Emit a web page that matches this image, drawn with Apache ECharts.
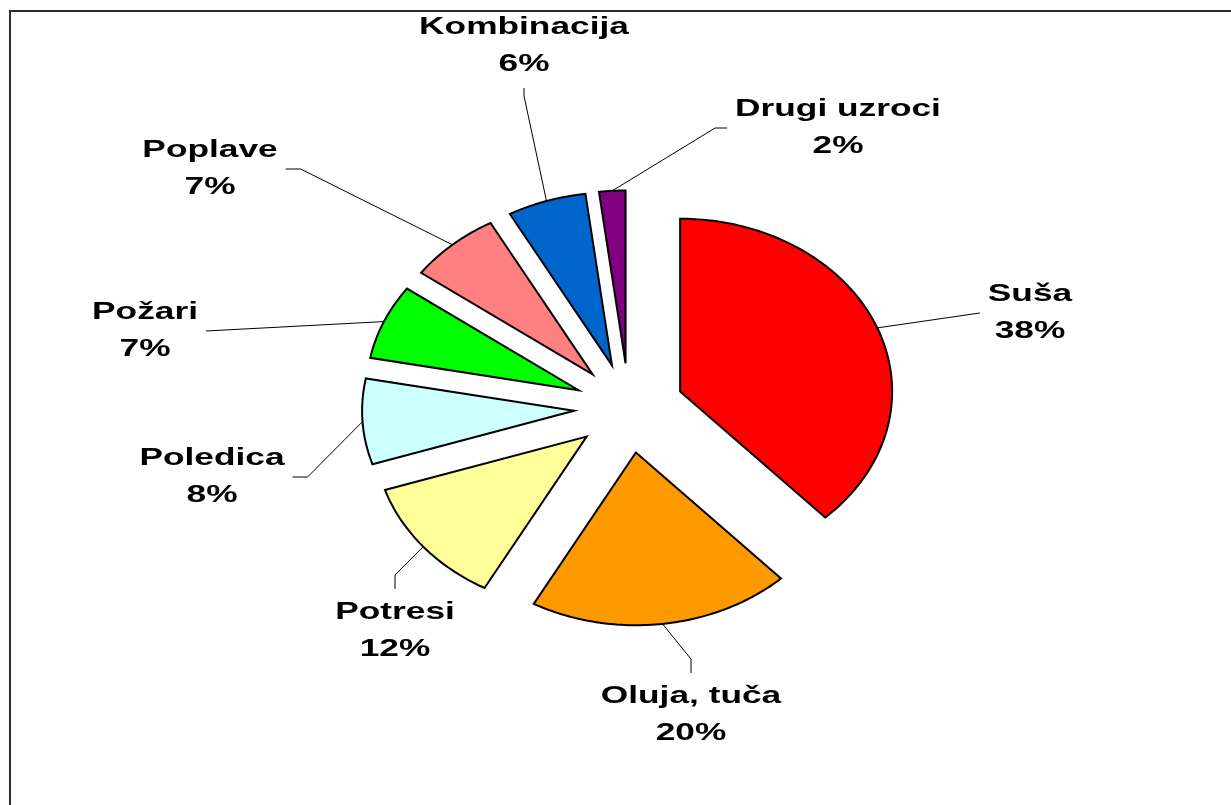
<!DOCTYPE html>
<html>
<head>
<meta charset="utf-8">
<script src="https://cdn.jsdelivr.net/npm/echarts@6/dist/echarts.min.js"></script>
<style>
  html, body { margin: 0; padding: 0; background: #ffffff; }
  #chart { width: 1231px; height: 805px; }
</style>
</head>
<body>
<div id="chart"></div>
<script>
// Causes of damage, share in percent
const categories = ['Suša', 'Oluja, tuča', 'Potresi', 'Poledica', 'Požari', 'Poplave', 'Kombinacija', 'Drugi uzroci'];
const shares = [38, 20, 12, 8, 7, 7, 6, 2];
const sliceColors = ['#FF0000', '#FF9900', '#FFFF99', '#CCFFFF', '#00FF00', '#FF8080', '#0066CC', '#800080'];

// Label block centres relative to the pie centre (px)
const labelOffsets = [[401, -95], [62, 307], [-234, 223], [-417, 69], [-484, -77], [-419, -239], [-105, -362], [209, -280]];
// Side of each label block where its leader line attaches
const labelSides = ['left', 'top', 'top', 'right', 'right', 'right', 'bottom', 'left'];
// Straight stub at the label end of each leader line
const stubLengths = [0, 14, 14, 15, 0, 15, 8, 12];

// Pie geometry: tilted (flattened) pie with every slice pulled out
const PIE = { cx: 629, cy: 408, r: 212, squash: 0.815, explode: 55 };
const LABEL_FONT = 'bold 24px "Liberation Sans", Arial, sans-serif';
const LABEL_STRETCH = 1.47;
const LABEL_LINE_H = 37;

const total = shares.reduce((a, b) => a + b, 0);
const startAngles = [];
shares.reduce((acc, v) => { startAngles.push(acc / total * 360); return acc + v; }, 0);

const measureCtx = document.createElement('canvas').getContext('2d');
measureCtx.font = LABEL_FONT;

// angle measured clockwise from 12 o'clock, in degrees
function polar(cx, cy, r, deg) {
  const a = deg * Math.PI / 180;
  return [cx + r * Math.sin(a), cy - PIE.squash * r * Math.cos(a)];
}

function renderSlice(params, api) {
  const i = params.dataIndex;
  const v = api.value(1);
  const a0 = startAngles[i];
  const a1 = a0 + v / total * 360;
  const mid = (a0 + a1) / 2;

  const apex = polar(PIE.cx, PIE.cy, PIE.explode, mid);
  const pts = [apex];
  const steps = Math.max(4, Math.ceil(a1 - a0));
  for (let k = 0; k <= steps; k++) {
    pts.push(polar(apex[0], apex[1], PIE.r, a0 + (a1 - a0) * k / steps));
  }
  const arcMid = polar(apex[0], apex[1], PIE.r, mid);

  const text = categories[i] + '\n' + v + '%';
  const lx = PIE.cx + labelOffsets[i][0];
  const ly = PIE.cy + labelOffsets[i][1];
  const maxW = Math.max(...text.split('\n').map(s => measureCtx.measureText(s).width));
  const hw = maxW * LABEL_STRETCH / 2;
  const hh = LABEL_LINE_H;
  const stub = stubLengths[i];
  let attach, bend;
  switch (labelSides[i]) {
    case 'left':   attach = [lx - hw - 8, ly]; bend = [attach[0] - stub, ly]; break;
    case 'right':  attach = [lx + hw + 8, ly]; bend = [attach[0] + stub, ly]; break;
    case 'top':    attach = [lx, ly - hh - 5]; bend = [lx, attach[1] - stub]; break;
    default:       attach = [lx, ly + hh + 5]; bend = [lx, attach[1] + stub]; break;
  }

  return {
    type: 'group',
    children: [
      {
        type: 'polygon',
        shape: { points: pts },
        style: { fill: sliceColors[i], stroke: '#000000', lineWidth: 2, lineJoin: 'miter' }
      },
      {
        type: 'polyline',
        shape: { points: [attach, bend, arcMid] },
        style: { stroke: '#000000', lineWidth: 1, fill: null }
      },
      {
        type: 'text',
        x: lx,
        y: ly,
        scaleX: LABEL_STRETCH,
        style: {
          text: text,
          x: 0,
          y: 0,
          fill: '#000000',
          font: LABEL_FONT,
          align: 'center',
          verticalAlign: 'middle',
          lineHeight: LABEL_LINE_H
        }
      }
    ]
  };
}

const chart = echarts.init(document.getElementById('chart'), null, { renderer: 'canvas' });
chart.setOption({
  backgroundColor: '#ffffff',
  animation: false,
  graphic: [
    {
      type: 'rect',
      silent: true,
      shape: { x: 10, y: 11, width: 1300, height: 900 },
      style: { fill: null, stroke: '#2b2b2b', lineWidth: 2 }
    }
  ],
  series: [
    {
      type: 'custom',
      coordinateSystem: 'none',
      silent: true,
      renderItem: renderSlice,
      data: shares.map((v, i) => ({ name: categories[i], value: [i, v] }))
    }
  ]
});
</script>
</body>
</html>
